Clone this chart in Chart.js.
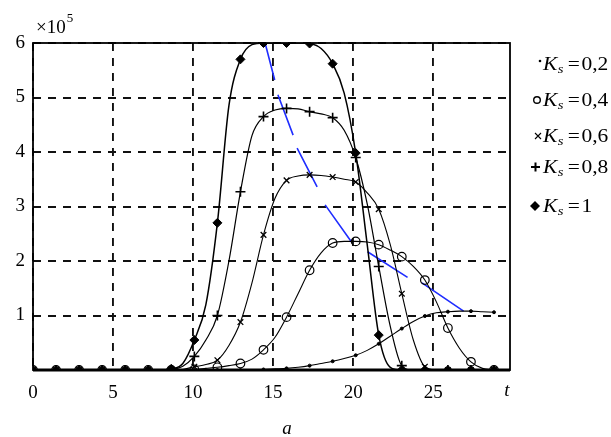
<!DOCTYPE html>
<html>
<head>
<meta charset="utf-8">
<script src="https://cdn.jsdelivr.net/npm/chart.js@4.4.1/dist/chart.umd.min.js"></script>
<style>
  html, body { margin: 0; padding: 0; background: #fff; }
  #wrap { width: 611px; height: 437px; position: relative; }
</style>
</head>
<body>
<div id="wrap"><canvas id="chart"></canvas></div>
<script>
// time grid (t), markers drawn on every second point
const tGrid = [0, 0.72, 1.44, 2.16, 2.88, 3.6, 4.32, 5.04, 5.76, 6.48, 7.2, 7.92, 8.64, 9.36, 10.08, 10.8,
  11.52, 12.24, 12.96, 13.68, 14.4, 15.12, 15.84, 16.56, 17.28, 18, 18.72, 19.44, 20.16, 20.88, 21.6,
  22.32, 23.04, 23.76, 24.48, 25.2, 25.92, 26.64, 27.36, 28.08, 28.8];

// values in units of 10^5
const ks02 = [0, 0, 0, 0, 0, 0, 0, 0, 0, 0, 0, 0, 0, 0, 0, 0, 0, 0, 0, 0.005, 0.01, 0.02, 0.03, 0.05, 0.08,
  0.12, 0.16, 0.21, 0.27, 0.36, 0.48, 0.62, 0.76, 0.89, 0.99, 1.05, 1.07, 1.08, 1.08, 1.07, 1.06];
const ks04 = [0, 0, 0, 0, 0, 0, 0, 0, 0, 0, 0, 0, 0, 0, 0.01, 0.03, 0.05, 0.08, 0.12, 0.2, 0.37, 0.6, 0.97,
  1.4, 1.83, 2.15, 2.33, 2.36, 2.36, 2.35, 2.3, 2.2, 2.08, 1.9, 1.65, 1.25, 0.77, 0.4, 0.15, 0.03, 0];
const ks06 = [0, 0, 0, 0, 0, 0, 0, 0, 0, 0, 0, 0, 0, 0.01, 0.06, 0.1, 0.18, 0.45, 0.88, 1.6, 2.48, 3.15, 3.48,
  3.56, 3.58, 3.57, 3.54, 3.5, 3.45, 3.25, 2.95, 2.3, 1.4, 0.55, 0.06, 0, 0, 0, 0, 0, 0];
const ks08 = [0, 0, 0, 0, 0, 0, 0, 0, 0, 0, 0, 0, 0.01, 0.07, 0.25, 0.55, 1.0, 2.0, 3.27, 4.3, 4.65, 4.77, 4.8,
  4.79, 4.74, 4.7, 4.63, 4.4, 3.9, 3.05, 1.9, 0.8, 0.08, 0, 0, 0, 0, 0, 0, 0, 0];
const ks10 = [0, 0, 0, 0, 0, 0, 0, 0, 0, 0, 0, 0, 0.02, 0.12, 0.55, 1.2, 2.7, 4.85, 5.7, 5.97, 6.0, 6.0, 6.0,
  6.0, 5.99, 5.9, 5.62, 5.08, 3.98, 2.3, 0.64, 0.05, 0, 0, 0, 0, 0, 0, 0, 0, 0];

// blue broken line through the peaks (null = gap)
const blueT = [14.5, 15.1, null, 15.3, 16.25, null, 16.5, 17.75, null, 18.25, 19.9, null, 20.9, 23.4, null, 24.3, 26.9];
const blueY = [6.0, 5.32, null, 5.05, 4.31, null, 4.07, 3.36, null, 3.03, 2.35, null, 2.17, 1.7, null, 1.6, 1.08];

const xTicks = [0, 5, 10, 15, 20, 25];
const yTicks = [1, 2, 3, 4, 5, 6];
const legendLabels = ['0,2', '0,4', '0,6', '0,8', '1'];

const SERIF = '"Liberation Serif", "Times New Roman", serif';
Chart.defaults.font.family = SERIF;
Chart.defaults.color = '#000';

function pts(ys) {
  return tGrid.map((t, i) => ({ x: t, y: ys[i] }));
}
function markEvery(r) {
  return (c) => (c.dataIndex % 2 === 0 ? r : 0);
}
function curve(label, ys, style, r, fill, width, bw) {
  return {
    label: label,
    data: pts(ys),
    borderColor: '#000',
    borderWidth: width,
    pointStyle: style,
    pointRadius: markEvery(r),
    pointBorderColor: '#000',
    pointBackgroundColor: fill,
    pointBorderWidth: bw,
    cubicInterpolationMode: 'monotone'
  };
}

const blueData = blueT.map((t, i) => ({ x: t, y: blueY[i] }));

// frame round the plot area, bottom edge heavier (curves overlap there)
const framePlugin = {
  id: 'frame',
  beforeDatasetsDraw(chart) {
    const { ctx, chartArea: a } = chart;
    ctx.save();
    ctx.strokeStyle = '#000';
    ctx.lineWidth = 1.8;
    ctx.strokeRect(a.left, a.top, a.right - a.left, a.bottom - a.top);
    ctx.lineWidth = 3;
    ctx.beginPath();
    ctx.moveTo(a.left, a.bottom);
    ctx.lineTo(a.right, a.bottom);
    ctx.stroke();
    ctx.restore();
  }
};

// texts: x10^5, t, a and the legend with subscripts
const textPlugin = {
  id: 'texts',
  afterDraw(chart) {
    const ctx = chart.ctx;
    ctx.save();
    ctx.fillStyle = '#000';
    ctx.strokeStyle = '#000';
    ctx.textBaseline = 'alphabetic';
    ctx.textAlign = 'left';

    ctx.font = '19px ' + SERIF;
    ctx.fillText('\u00d710', 36, 33);
    const w = ctx.measureText('\u00d710').width;
    ctx.font = '13px ' + SERIF;
    ctx.fillText('5', 36 + w + 1, 22);

    ctx.font = 'italic 19px ' + SERIF;
    ctx.textAlign = 'center';
    ctx.fillText('t', 507, 396);
    ctx.fillText('a', 287, 434);
    ctx.textAlign = 'left';

    const rows = [70, 106, 142, 173, 212];
    rows.forEach((yb, i) => {
      ctx.save();
      ctx.translate(543, yb);
      ctx.scale(1.13, 1);
      ctx.font = 'italic 19px ' + SERIF;
      ctx.fillText('K', 0, 0);
      ctx.font = 'italic 13px ' + SERIF;
      ctx.fillText('s', 13, 3);
      ctx.font = '19px ' + SERIF;
      ctx.fillText('=', 22, 0);
      ctx.fillText(legendLabels[i], 34, 0);
      ctx.restore();

      const my = yb - 6;
      ctx.lineWidth = 1.4;
      ctx.beginPath();
      if (i === 0) {
        ctx.arc(540, yb - 9, 1.3, 0, Math.PI * 2);
        ctx.fill();
      } else if (i === 1) {
        ctx.arc(537, my, 3.3, 0, Math.PI * 2);
        ctx.stroke();
      } else if (i === 2) {
        ctx.moveTo(535, my - 3); ctx.lineTo(541, my + 3);
        ctx.moveTo(541, my - 3); ctx.lineTo(535, my + 3);
        ctx.lineWidth = 1.1;
        ctx.stroke();
      } else if (i === 3) {
        ctx.moveTo(531, my); ctx.lineTo(540, my);
        ctx.moveTo(535.5, my - 4.5); ctx.lineTo(535.5, my + 4.5);
        ctx.lineWidth = 2;
        ctx.stroke();
      } else {
        ctx.moveTo(535, my - 5); ctx.lineTo(540, my); ctx.lineTo(535, my + 5); ctx.lineTo(530, my);
        ctx.closePath();
        ctx.fill();
      }
    });
    ctx.restore();
  }
};

new Chart(document.getElementById('chart'), {
  type: 'line',
  data: {
    datasets: [
      curve('Ks=0,2', ks02, 'circle', 1.5, '#000', 1.1, 1),
      curve('Ks=0,4', ks04, 'circle', 4.3, 'rgba(255,255,255,0)', 1.1, 1.2),
      curve('Ks=0,6', ks06, 'crossRot', 4, '#000', 1.1, 1.3),
      curve('Ks=0,8', ks08, 'cross', 5, '#000', 1.2, 1.6),
      curve('Ks=1', ks10, 'rectRot', 4.5, '#000', 1.5, 1),
      {
        label: 'peaks',
        data: blueData,
        borderColor: '#1f2dff',
        borderWidth: 1.6,
        pointRadius: 0,
        spanGaps: false,
        tension: 0
      }
    ]
  },
  options: {
    responsive: true,
    maintainAspectRatio: false,
    animation: false,
    events: [],
    layout: { padding: { left: 0, right: 101, top: 43, bottom: 0 } },
    plugins: { legend: { display: false }, tooltip: { enabled: false } },
    scales: {
      x: {
        type: 'linear',
        min: 0,
        max: 29.8,
        afterFit(scale) { scale.height = 67; },
        afterBuildTicks(scale) { scale.ticks = xTicks.map(v => ({ value: v })); },
        ticks: { padding: 12, font: { size: 19 }, color: '#000', includeBounds: false },
        grid: { color: '#111', lineWidth: 1.9, drawTicks: false },
        border: { display: false, dash: [8, 7] }
      },
      y: {
        type: 'linear',
        min: 0,
        max: 6,
        afterFit(scale) { scale.width = 33; },
        afterBuildTicks(scale) { scale.ticks = [0].concat(yTicks).map(v => ({ value: v })); },
        ticks: {
          padding: 8,
          font: { size: 19 },
          color: '#000',
          callback: (v) => (v === 0 ? '' : String(v))
        },
        grid: { color: '#111', lineWidth: 1.9, drawTicks: false },
        border: { display: false, dash: [8, 7] }
      }
    }
  },
  plugins: [framePlugin, textPlugin]
});
</script>
</body>
</html>
